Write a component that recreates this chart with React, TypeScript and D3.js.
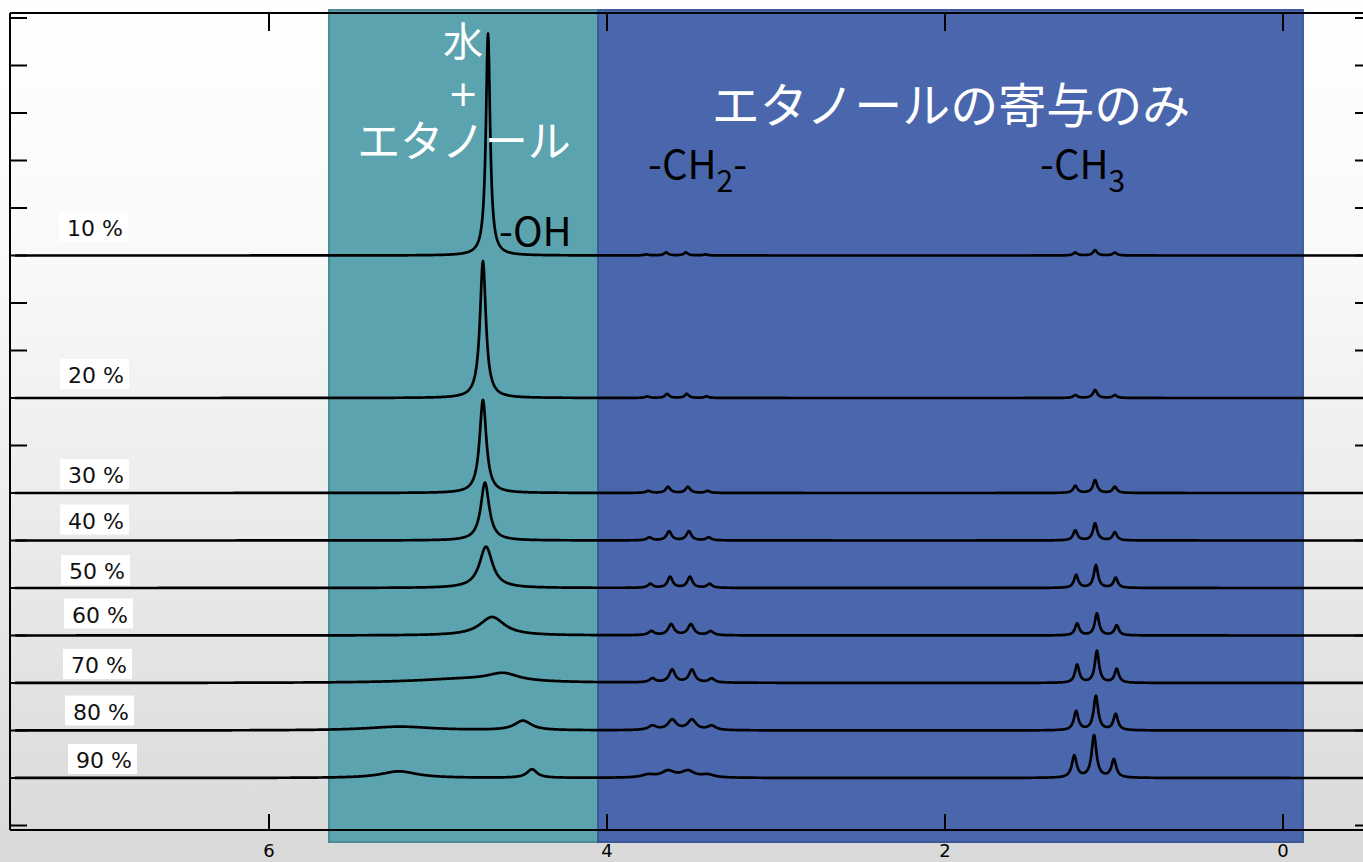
import React from "react";
import * as d3 from "d3";

const W = 1363;
const H = 862;

// ethanol content of each trace, top to bottom
const concentrations = [10, 20, 30, 40, 50, 60, 70, 80, 90];
// baseline of each trace, in y tick units (0 = bottom tick)
const offsets = [12, 9, 7, 6, 5, 4, 3, 2, 1];

// water + OH peak (ppm, height, half width)
const waterPpm = [4.704, 4.734, 4.734, 4.722, 4.716, 4.68, 4.615, 4.497, 4.444];
const waterHeight = [4.67, 2.88, 1.96, 1.22, 0.87, 0.39, 0.16, 0.2, 0.18];
const waterWidth = [0.015, 0.021, 0.024, 0.03, 0.047, 0.089, 0.11, 0.06, 0.036];

// second broad exchange peak (only seen at high ethanol)
const ohPpm = [0, 0, 0, 0, 0, 0, 4.85, 5.225, 5.231];
const ohHeight = [0, 0, 0, 0, 0, 0, 0.08, 0.08, 0.14];
const ohWidth = [0.1, 0.1, 0.1, 0.1, 0.1, 0.1, 0.35, 0.24, 0.13];

// -CH2- quartet
const ch2Ppm = [3.592, 3.586, 3.58, 3.574, 3.568, 3.562, 3.556, 3.556, 3.58];
const ch2Inner = [0.063, 0.084, 0.126, 0.189, 0.23, 0.23, 0.27, 0.215, 0.137];
const ch2Outer = [0.021, 0.032, 0.042, 0.063, 0.084, 0.084, 0.084, 0.09, 0.059];
const ch2Width = [0.015, 0.015, 0.017, 0.018, 0.018, 0.021, 0.021, 0.03, 0.047];

// -CH3 triplet
const ch3Ppm = [1.112, 1.112, 1.112, 1.112, 1.107, 1.101, 1.101, 1.107, 1.118];
const ch3Left = [0.06, 0.06, 0.15, 0.21, 0.27, 0.25, 0.38, 0.4, 0.46];
const ch3Mid = [0.11, 0.17, 0.27, 0.36, 0.48, 0.46, 0.67, 0.72, 0.89];
const ch3Right = [0.06, 0.06, 0.13, 0.17, 0.21, 0.21, 0.29, 0.34, 0.38];
const ch3Width = [0.015, 0.015, 0.015, 0.015, 0.015, 0.015, 0.015, 0.016, 0.017];

const J = 0.117; // coupling, ppm

// shaded regions (ppm)
const mixRegion = [5.645, 4.053];
const ethanolRegion = [4.053, -0.118];

const xTicks = [6, 4, 2, 0];

// label box placement (layout only)
const labelBoxX = [59, 60, 60, 60, 61, 64, 63, 65, 68];
const labelBoxDy = [-44, -39, -34, -36, -33, -37, -34, -35, -34];

const x = d3.scaleLinear().domain([6, 0]).range([269, 1283]);
const y = d3.scaleLinear().domain([0, 17]).range([825.5, 18]);

const frameLeft = 10;
const frameRight = 1372;
const frameTop = 13;
const frameBottom = 830;

const lorentz = (p: number, c: number, h: number, g: number) =>
  (h * g * g) / ((p - c) * (p - c) + g * g);

function peaksFor(i: number): number[][] {
  return [
    [waterPpm[i], waterHeight[i], waterWidth[i]],
    [ohPpm[i], ohHeight[i], ohWidth[i]],
    [ch2Ppm[i] + 1.5 * J, ch2Outer[i], ch2Width[i]],
    [ch2Ppm[i] + 0.5 * J, ch2Inner[i], ch2Width[i]],
    [ch2Ppm[i] - 0.5 * J, ch2Inner[i], ch2Width[i]],
    [ch2Ppm[i] - 1.5 * J, ch2Outer[i], ch2Width[i]],
    [ch3Ppm[i] + J, ch3Left[i], ch3Width[i]],
    [ch3Ppm[i], ch3Mid[i], ch3Width[i]],
    [ch3Ppm[i] - J, ch3Right[i], ch3Width[i]],
  ];
}

const grid = d3.range(x.invert(15), x.invert(frameRight), -0.003);

export default function App() {
  const line = d3
    .line<[number, number]>()
    .x((d) => x(d[0]))
    .y((d) => y(d[1]));

  const traces = concentrations.map((c, i) => {
    const peaks = peaksFor(i);
    const pts: [number, number][] = grid.map((p) => {
      let v = 0;
      for (const pk of peaks) if (pk[1] > 0) v += lorentz(p, pk[0], pk[1], pk[2]);
      return [p, offsets[i] + v];
    });
    return line(pts) as string;
  });

  const yTicks = d3.range(0, 18);
  const cjk = "'Noto Sans CJK JP', 'Noto Sans', sans-serif";

  return (
    <svg width={W} height={H} style={{ position: "absolute", left: 0, top: 0 }}>
      <defs>
        <linearGradient id="bg" x1="0" y1="0" x2="0" y2="1">
          <stop offset="0" stopColor="#ffffff" />
          <stop offset="0.3" stopColor="#f9f9f9" />
          <stop offset="1" stopColor="#d9d9d9" />
        </linearGradient>
      </defs>
      <rect width={W} height={H} fill="url(#bg)" />

      {/* highlighted regions */}
      <rect
        x={x(mixRegion[0])}
        y={10}
        width={x(mixRegion[1]) - x(mixRegion[0])}
        height={832}
        fill="#5ba3ae"
        stroke="#4b8c96"
        strokeWidth={2}
      />
      <rect
        x={x(ethanolRegion[0])}
        y={10}
        width={x(ethanolRegion[1]) - x(ethanolRegion[0])}
        height={832}
        fill="#4a67ae"
        stroke="#3e5897"
        strokeWidth={2}
      />

      {/* frame */}
      <g stroke="#000" strokeWidth={2} fill="none">
        <line x1={frameLeft} x2={frameRight} y1={frameTop} y2={frameTop} />
        <line x1={frameLeft} x2={frameRight} y1={frameBottom} y2={frameBottom} />
        <line x1={frameLeft} x2={frameLeft} y1={frameTop} y2={frameBottom} />
        {xTicks.map((t) => (
          <g key={t}>
            <line x1={x(t)} x2={x(t)} y1={frameTop} y2={frameTop + 18} />
            <line x1={x(t)} x2={x(t)} y1={frameBottom} y2={frameBottom - 16} />
          </g>
        ))}
        {yTicks.map((t) => (
          <g key={t}>
            <line x1={frameLeft} x2={frameLeft + 17} y1={y(t)} y2={y(t)} />
            <line x1={frameRight - 17} x2={frameRight} y1={y(t)} y2={y(t)} />
          </g>
        ))}
      </g>
      {xTicks.map((t) => (
        <text
          key={t}
          x={x(t)}
          y={857}
          textAnchor="middle"
          fontFamily="'DejaVu Sans', sans-serif"
          fontSize={18}
          fill="#000"
        >
          {t}
        </text>
      ))}

      {/* spectra */}
      {traces.map((d, i) => (
        <path key={i} d={d} fill="none" stroke="#000" strokeWidth={2.7} strokeLinejoin="round" />
      ))}

      {/* concentration labels */}
      {concentrations.map((c, i) => {
        const by = y(offsets[i]) + labelBoxDy[i];
        return (
          <g key={c}>
            <rect x={labelBoxX[i]} y={by} width={69} height={30} fill="#fff" />
            <text
              x={labelBoxX[i] + 8}
              y={by + 24}
              fontFamily="'DejaVu Sans', sans-serif"
              fontSize={22}
              fill="#111"
            >
              {c} %
            </text>
          </g>
        );
      })}

      {/* annotations */}
      <g fontFamily={cjk} fill="#fff" textAnchor="middle">
        <text x={463} y={56} fontSize={40}>
          水
          <tspan x={463} dy={50} fontFamily="'DejaVu Sans', sans-serif" fontSize={36}>+</tspan>
          <tspan x={464} dy={51} fontSize={43}>エタノール</tspan>
        </text>
        <text x={951} y={123} fontSize={48}>エタノールの寄与のみ</text>
      </g>
      <g fontFamily={cjk} fill="#000" fontSize={40}>
        <text x={499} y={246}>-OH</text>
        <text x={648} y={179}>
          -CH<tspan dy={13} fontSize={30}>2</tspan>
          <tspan dy={-13}>-</tspan>
        </text>
        <text x={1040} y={179}>
          -CH<tspan dy={13} fontSize={30}>3</tspan>
        </text>
      </g>
    </svg>
  );
}
